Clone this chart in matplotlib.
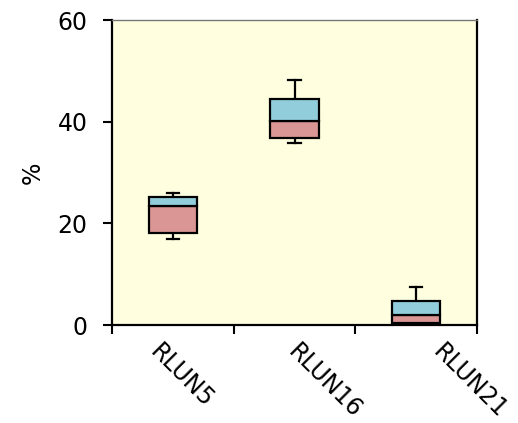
import matplotlib
matplotlib.use("Agg")
import matplotlib.pyplot as plt
import matplotlib.transforms as mtransforms
from matplotlib.patches import Rectangle

categories = ["RLUN5", "RLUN16", "RLUN21"]
q1 = [18.0, 36.7, 0.3]
median = [23.4, 40.1, 2.0]
q3 = [25.1, 44.5, 4.7]
whisker_low = [17.0, 35.9, 0.0]
whisker_high = [25.9, 48.2, 7.5]
yticks = [0, 20, 40, 60]

lower_color = "#D99694"
upper_color = "#92CDDC"
bg_color = "#FFFFE0"

fig = plt.figure(figsize=(5.18, 4.23), dpi=100)
ax = fig.add_axes([112/518, 1-325/423, (477-112)/518, (325-20)/423])
ax.set_facecolor(bg_color)
ax.set_xlim(0, 3)
ax.set_ylim(0, 60)

w = 0.4
cap = 0.052
lw = 1.6
for i in range(len(categories)):
    c = i + 0.5
    ax.plot([c, c], [q3[i], whisker_high[i]], color="black", lw=lw, zorder=2)
    ax.plot([c - cap, c + cap], [whisker_high[i], whisker_high[i]], color="black", lw=lw, zorder=2)
    ax.plot([c, c], [whisker_low[i], q1[i]], color="black", lw=lw, zorder=2)
    ax.plot([c - cap, c + cap], [whisker_low[i], whisker_low[i]], color="black", lw=lw, zorder=2)
    ax.add_patch(Rectangle((c - w/2, q1[i]), w, median[i] - q1[i], facecolor=lower_color,
                           edgecolor="black", lw=lw, zorder=3))
    ax.add_patch(Rectangle((c - w/2, median[i]), w, q3[i] - median[i], facecolor=upper_color,
                           edgecolor="black", lw=lw, zorder=3))

ax.set_yticks(yticks)
ax.set_yticklabels([str(t) for t in yticks], fontsize=17)
ax.set_xticks([0, 1, 2, 3])
ax.set_xticklabels([])
ax.tick_params(axis="both", direction="out", length=6.5, width=1.5, color="black")
ax.tick_params(axis="y", pad=11)

for s in ["left", "bottom", "right"]:
    ax.spines[s].set_linewidth(1.6)
    ax.spines[s].set_color("black")
ax.spines["top"].set_linewidth(1.0)
ax.spines["top"].set_color("#777777")

ax.set_ylabel("%", fontsize=17, labelpad=9)

offsets = [-27.5, -11, 12]
for i, cat in enumerate(categories):
    trans = ax.get_xaxis_transform() + mtransforms.ScaledTranslation(offsets[i]/100, -15/100, fig.dpi_scale_trans)
    ax.text(i + 0.5, 0, cat, transform=trans, rotation=-45, ha="left", va="top", fontsize=17)

fig.savefig("out.png", dpi=100)
